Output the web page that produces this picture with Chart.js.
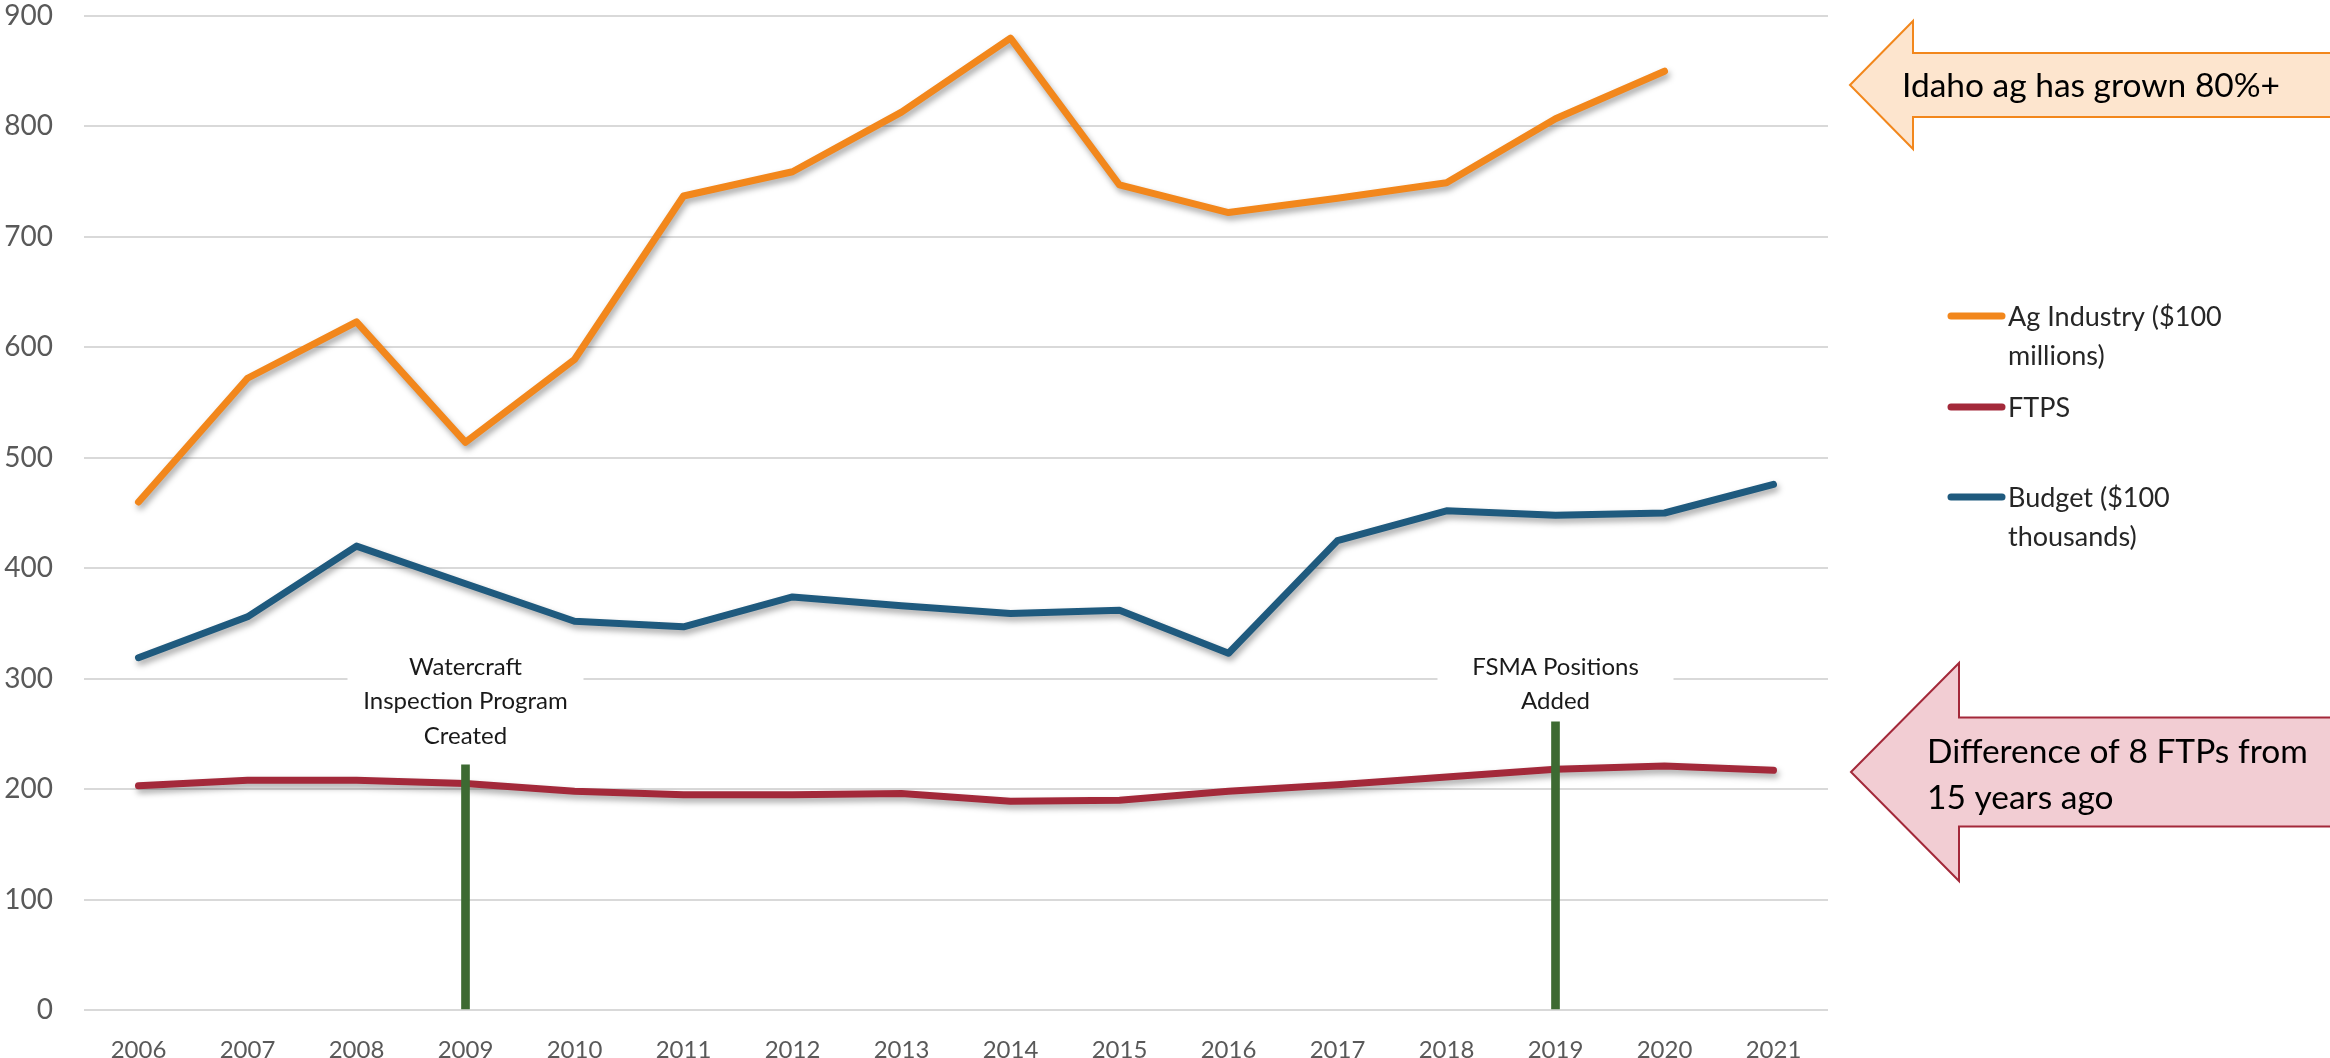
<!DOCTYPE html>
<html>
<head>
<meta charset="utf-8">
<script src="https://cdn.jsdelivr.net/npm/chart.js@4.4.1/dist/chart.umd.min.js"></script>
<style>
  body { margin: 0; background: #ffffff; }
  #wrap { width: 2330px; height: 1058px; position: relative; }
</style>
</head>
<body>
<div id="wrap"><canvas id="agChart"></canvas></div>
<script>
// data
const years = ['2006', '2007', '2008', '2009', '2010', '2011', '2012', '2013', '2014', '2015', '2016', '2017', '2018', '2019', '2020', '2021'];
const agIndustry = [460, 572, 623, 514, 589, 737, 759, 813, 880, 747, 722, 735, 749, 807, 850, null];
const ftps = [203, 208, 208, 205, 198, 195, 195, 196, 189, 190, 198, 204, 211, 218, 221, 217];
const budget = [319, 356, 420, 386, 352, 347, 374, 366, 359, 362, 323, 425, 452, 448, 450, 476];
const eventMarkers = [null, null, null, 222, null, null, null, null, null, null, null, null, null, 261, null, null];

const seriesNames = ['Ag Industry ($100 millions)', 'FTPS', 'Budget ($100 thousands)'];
const legendLines = [['Ag Industry ($100', 'millions)'], ['FTPS'], ['Budget ($100', 'thousands)']];
const eventYears = ['2009', '2019'];
const eventText = [['Watercraft', 'Inspection Program', 'Created'], ['FSMA Positions', 'Added']];
const calloutText = [['Idaho ag has grown 80%+'], ['Difference of 8 FTPs from', '15 years ago']];
const yTicks = [0, 100, 200, 300, 400, 500, 600, 700, 800, 900];

const FONT = 'Lato, "Open Sans", sans-serif';
const colors = { ag: '#F2871C', ftps: '#A3293A', budget: '#1F5A7E', marker: '#3D6A32' };

// soft drop shadow under the lines, like the office chart
const shadowPlugin = {
  id: 'lineShadow',
  beforeDatasetDraw(chart, args) {
    if (args.meta.type !== 'line') return;
    const ctx = chart.ctx;
    ctx.save();
    ctx.shadowColor = 'rgba(0,0,0,0.35)';
    ctx.shadowBlur = 6;
    ctx.shadowOffsetX = 2;
    ctx.shadowOffsetY = 4;
  },
  afterDatasetDraw(chart, args) {
    if (args.meta.type !== 'line') return;
    chart.ctx.restore();
  }
};

// white label boxes above the green markers
const eventLabelPlugin = {
  id: 'eventLabels',
  beforeDatasetsDraw(chart) {
    const ctx = chart.ctx;
    const xs = chart.scales.x;
    ctx.save();
    ctx.font = '24px ' + FONT;
    ctx.textAlign = 'center';
    ctx.textBaseline = 'middle';
    eventYears.forEach((yr, i) => {
      const cx = xs.getPixelForValue(years.indexOf(yr));
      const lines = eventText[i];
      const top = 648;
      ctx.fillStyle = '#ffffff';
      ctx.fillRect(cx - 118, top, 236, lines.length * 34 + 4);
      ctx.fillStyle = '#1a1a1a';
      lines.forEach((t, j) => ctx.fillText(t, cx, 667 + j * 34.5));
    });
    ctx.restore();
  }
};

function blockArrow(ctx, tipX, midY, headX, headHalf, shaftHalf, endX, fill, stroke) {
  ctx.beginPath();
  ctx.moveTo(tipX, midY);
  ctx.lineTo(headX, midY - headHalf);
  ctx.lineTo(headX, midY - shaftHalf);
  ctx.lineTo(endX, midY - shaftHalf);
  ctx.lineTo(endX, midY + shaftHalf);
  ctx.lineTo(headX, midY + shaftHalf);
  ctx.lineTo(headX, midY + headHalf);
  ctx.closePath();
  ctx.fillStyle = fill;
  ctx.fill();
  ctx.lineWidth = 2;
  ctx.strokeStyle = stroke;
  ctx.stroke();
}

// legend on the right and the two callout arrows
const sidePlugin = {
  id: 'sideStuff',
  afterDraw(chart) {
    const ctx = chart.ctx;
    ctx.save();
    // legend
    const legendY = [316, 407, 497];
    ctx.font = '27px ' + FONT;
    ctx.textBaseline = 'middle';
    ctx.textAlign = 'left';
    chart.data.datasets.slice(0, 3).forEach((ds, i) => {
      const y = legendY[i];
      ctx.strokeStyle = ds.borderColor;
      ctx.lineWidth = 7;
      ctx.lineCap = 'round';
      ctx.beginPath();
      ctx.moveTo(1951, y);
      ctx.lineTo(2002, y);
      ctx.stroke();
      ctx.fillStyle = '#262626';
      legendLines[i].forEach((t, j) => ctx.fillText(t, 2008, y + 1 + j * 39));
    });

    // callouts
    blockArrow(ctx, 1850, 85, 1913, 64, 32, 2340, '#FDE5CE', colors.ag);
    blockArrow(ctx, 1851, 772, 1959, 109, 54.5, 2340, '#F2CDD3', colors.ftps);
    ctx.fillStyle = '#000000';
    ctx.font = '33.5px ' + FONT;
    ctx.fillText(calloutText[0][0], 1902, 86);
    calloutText[1].forEach((t, j) => ctx.fillText(t, 1927, 752 + j * 46));
    ctx.restore();
  }
};

const ctx = document.getElementById('agChart').getContext('2d');
new Chart(ctx, {
  type: 'line',
  data: {
    labels: years,
    datasets: [
      { label: seriesNames[0], data: agIndustry, borderColor: colors.ag, order: 1 },
      { label: seriesNames[1], data: ftps, borderColor: colors.ftps, order: 2 },
      { label: seriesNames[2], data: budget, borderColor: colors.budget, order: 3 },
      { type: 'bar', label: 'events', data: eventMarkers, backgroundColor: colors.marker, barThickness: 8, order: 0 }
    ]
  },
  options: {
    responsive: true,
    maintainAspectRatio: false,
    animation: false,
    layout: { padding: { top: 16, right: 502, bottom: 0, left: 0 } },
    elements: {
      line: { borderWidth: 7, tension: 0, borderCapStyle: 'round', borderJoinStyle: 'round', fill: false },
      point: { radius: 0 }
    },
    plugins: { legend: { display: false }, tooltip: { enabled: false } },
    scales: {
      x: {
        offset: true,
        grid: { display: false },
        border: { display: false },
        ticks: { color: '#595959', padding: 18, maxRotation: 0, font: { family: FONT, size: 24 } },
        afterFit(scale) { scale.height = 48; scale.paddingLeft = 0; scale.paddingRight = 0; }
      },
      y: {
        min: 0,
        max: 900,
        afterBuildTicks(scale) { scale.ticks = yTicks.map(v => ({ value: v })); },
        grid: { color: '#D9D9D9', lineWidth: 2, drawTicks: false },
        border: { display: false },
        ticks: { color: '#595959', padding: 31, font: { family: FONT, size: 28 } },
        afterFit(scale) { scale.width = 84; scale.paddingTop = 0; scale.paddingBottom = 0; }
      }
    }
  },
  plugins: [shadowPlugin, eventLabelPlugin, sidePlugin]
});
</script>
</body>
</html>
